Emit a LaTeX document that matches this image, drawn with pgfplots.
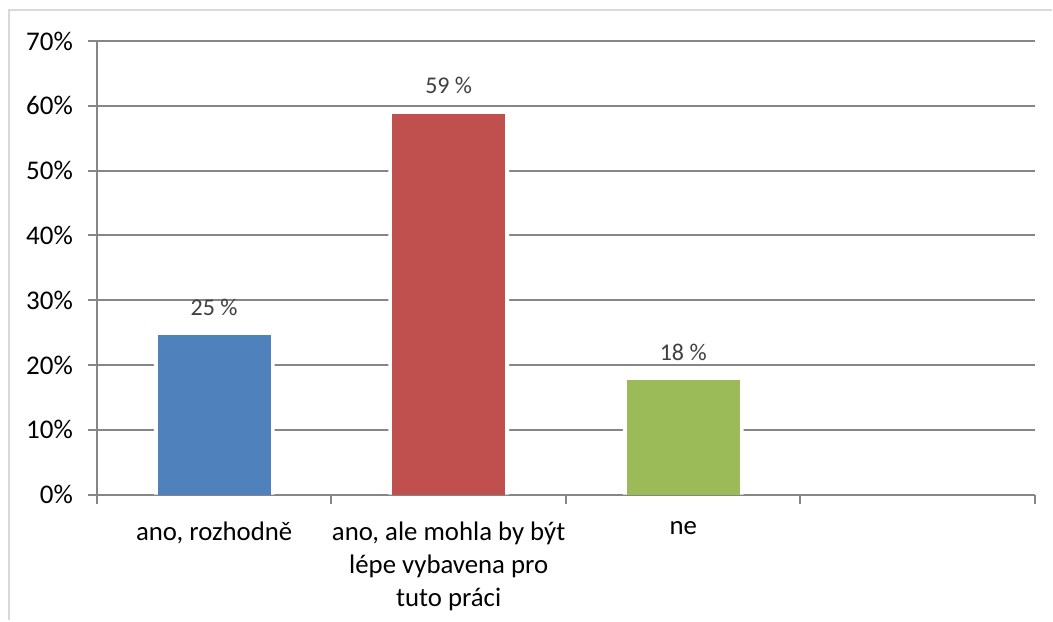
\documentclass[border=0pt]{standalone}
\usepackage{fontspec}
\setmainfont{Carlito}
\usepackage{pgfplots}
\pgfplotsset{compat=1.18}
\definecolor{gridgray}{HTML}{868686}
\definecolor{bordergray}{HTML}{D9D9D9}
\definecolor{cblue}{HTML}{4F81BD}
\definecolor{cred}{HTML}{C0504D}
\definecolor{cgreen}{HTML}{9BBB59}
\definecolor{lbl}{HTML}{404040}
\pgfplotsset{
  layers/mylayers/.define layer set={axis background,axis grid,main,axis ticks,axis lines,axis tick labels,axis descriptions,axis foreground}{},
}
\begin{document}
\begin{tikzpicture}
\begin{axis}[
  set layers=mylayers,
  name=ax, at={(0,0)}, anchor=south west,
  width=469.5pt, height=227pt, scale only axis,
  xmin=-0.5, xmax=3.5, ymin=0, ymax=70,
  axis x line*=bottom, axis y line*=left,
  axis line style={gridgray, line width=1pt},
  tick align=outside, major tick length=4.5pt,
  tick style={gridgray, line width=1pt},
  ytick={0,10,...,70},
  yticklabel={\pgfmathprintnumber{\tick}\%},
  /pgf/number format/assume math mode=true,
  yticklabel style={font=\fontsize{13.5}{16}\selectfont, xshift=-4pt},
  ymajorgrids, major grid style={gridgray, line width=1pt},
  xtick={-0.5,0.5,1.5,2.5,3.5},
  x tick label as interval,
  xticklabels={{ano, rozhodně},{ano, ale mohla by být\\lépe vybavena pro\\tuto práci},{ne},{}},
  xticklabel style={font=\fontsize{13.4}{16.5}\selectfont, align=center, anchor=north, yshift=-5.5pt},
  ybar, bar shift=0pt,
  point meta=explicit symbolic,
  every node near coord/.append style={font=\fontsize{12}{14}\selectfont, text=lbl, anchor=base, yshift=10.1pt},
]
% white gaps behind bars (Excel-style gridline breaks)
\addplot[fill=white, draw=none, bar width=0.515] coordinates {(0,24.56) (1,58.74) (2,17.6)};
\addplot[fill=cblue, draw=none, bar width=0.482, nodes near coords] coordinates {(0,24.56) [25 \%]};
\addplot[fill=cred, draw=none, bar width=0.482, nodes near coords] coordinates {(1,58.74) [59 \%]};
\addplot[fill=cgreen, draw=none, bar width=0.482, nodes near coords] coordinates {(2,17.6) [18 \%]};
\end{axis}
\draw[bordergray, line width=1pt] (-44pt,-63pt) -- (-44pt,242.5pt) -- (478pt,242.5pt);
\path[use as bounding box] (-48.5pt,-63pt) rectangle (478pt,247.5pt);
\end{tikzpicture}
\end{document}
